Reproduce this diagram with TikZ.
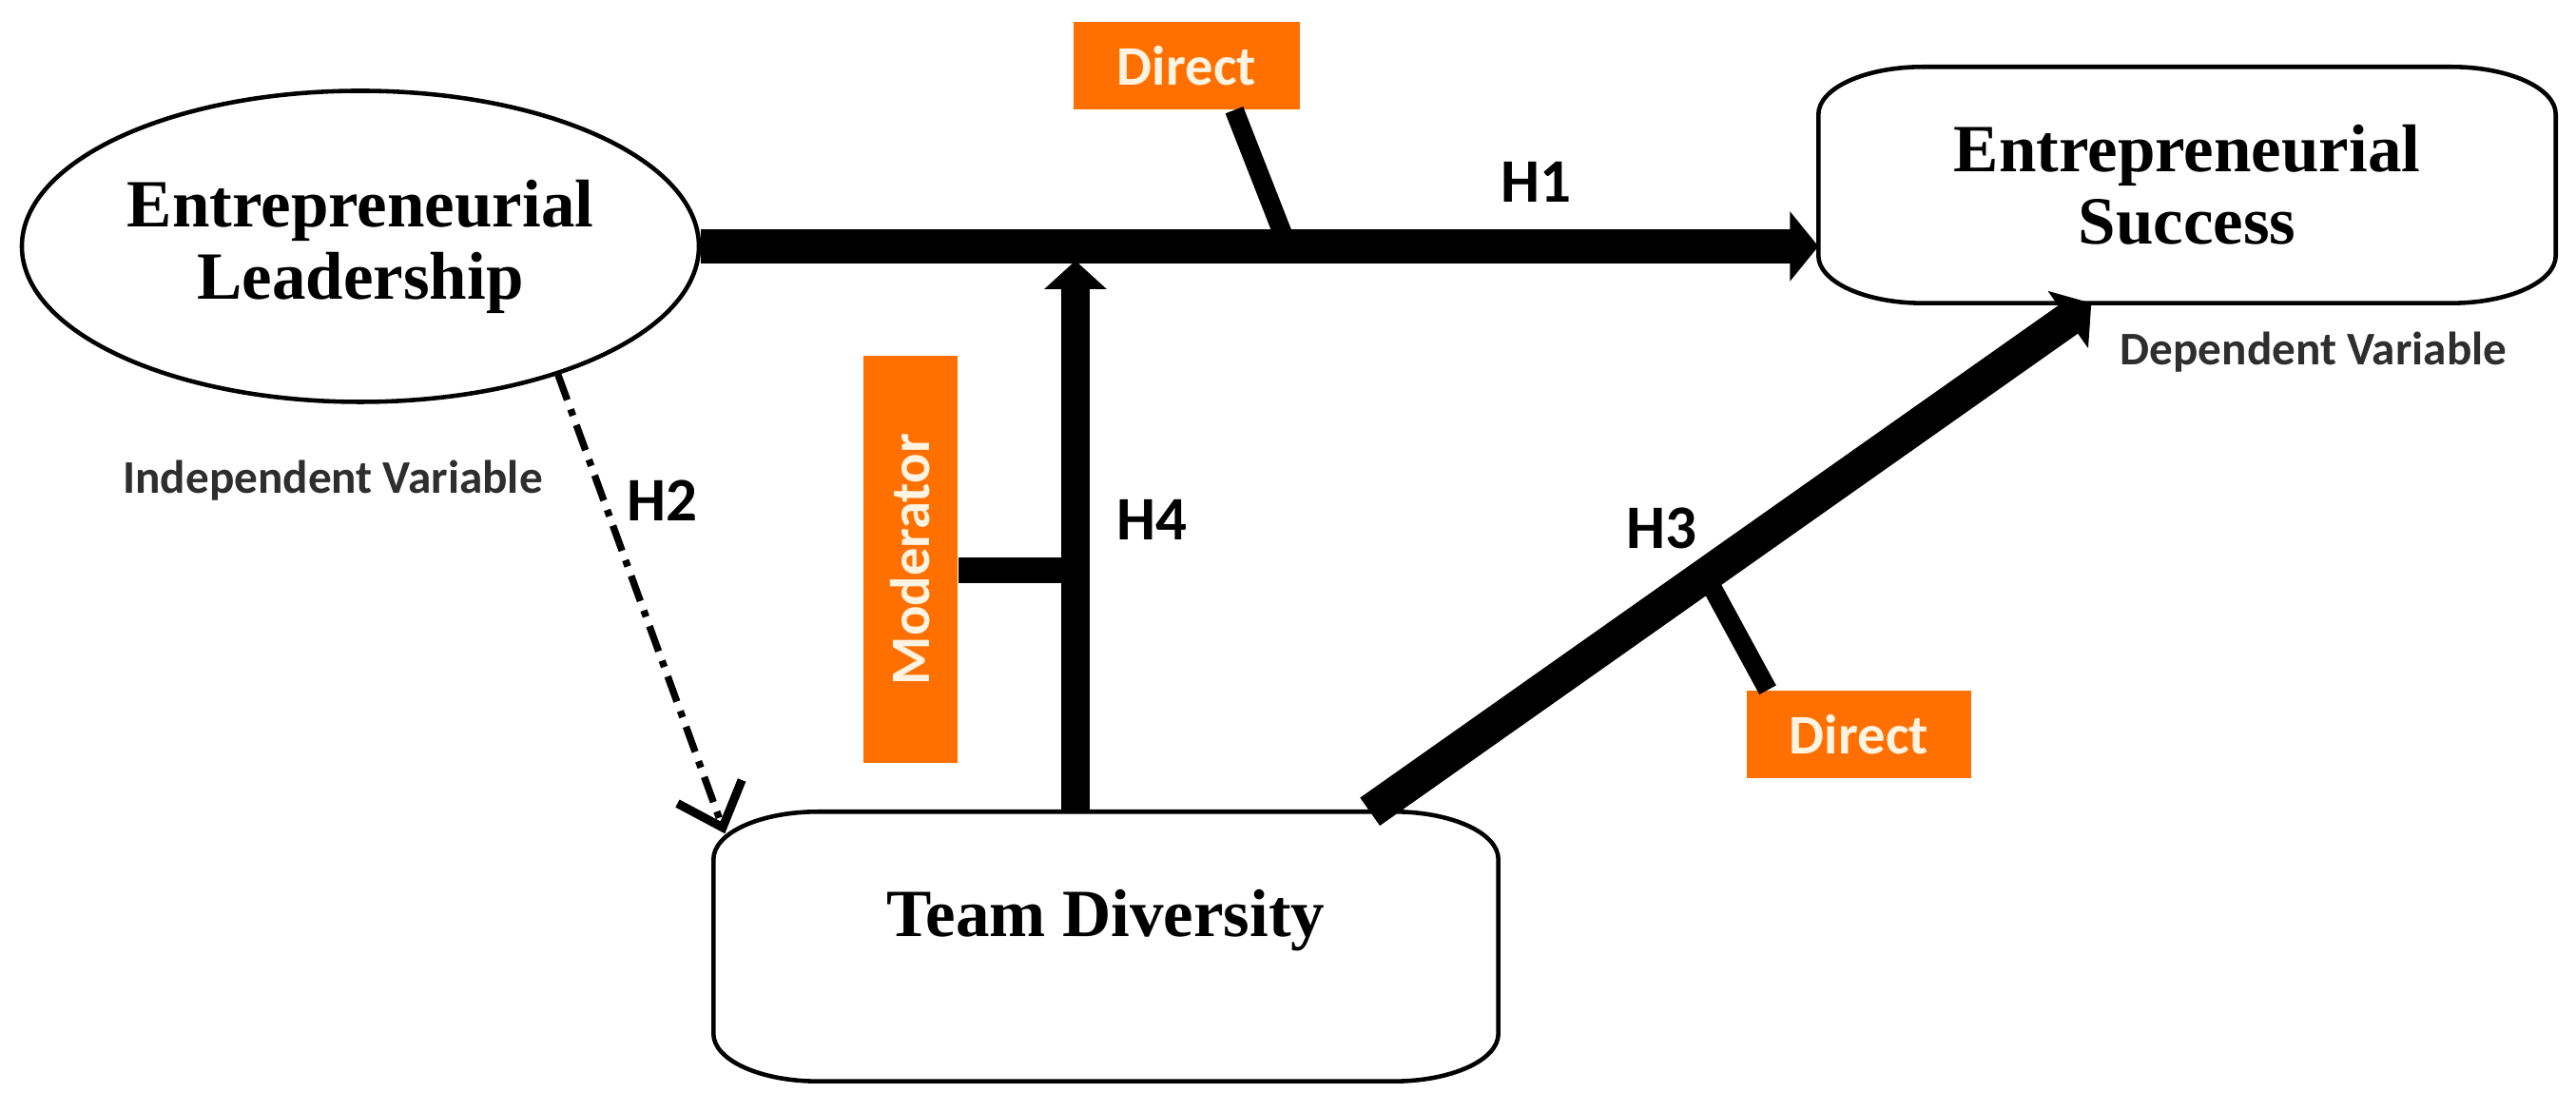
\documentclass[tikz,border=0pt]{standalone}
\usepackage{fontspec}
\setmainfont{Liberation Serif}
\newfontfamily\labelfont{Carlito}
\usepackage{xcolor}
\usetikzlibrary{arrows.meta, positioning, shapes.geometric, calc}

\definecolor{tagorange}{RGB}{255,112,0}
\definecolor{tagtext}{RGB}{255,243,225}

\begin{document}
\begin{tikzpicture}[
    construct/.style = {font=\fontsize{20.2}{21.6}\selectfont\bfseries,
                        align=center, inner sep=0pt},
    oval/.style      = {construct, ellipse, draw, line width=1.3pt,
                        minimum width=7.12cm, minimum height=3.27cm},
    softrect/.style  = {construct, rectangle},
    tag/.style       = {rectangle, fill=tagorange, text=tagtext, inner sep=0pt,
                        font=\labelfont\fontsize{16.7}{18}\selectfont\bfseries},
    hyp/.style       = {font=\labelfont\fontsize{18.5}{20}\selectfont\bfseries},
    role/.style      = {font=\labelfont\fontsize{14}{16}\selectfont\bfseries,
                        text=black!82},
    bigarrow/.style  = {-{Triangle[length=0.3cm, width=0.72cm]}, line width=0.36cm},
    modarrow/.style  = {-{Triangle[length=0.3cm, width=0.64cm]}, line width=0.3cm},
    stub/.style      = {line width=0.2cm},
    weak/.style      = {-{Straight Barb[length=0.4cm, width=0.72cm, line width=2.6pt]},
                        line width=2.1pt, dash pattern=on 8pt off 3pt on 2pt off 3pt},
    boxline/.style   = {line width=1.3pt}
  ]

  \path[use as bounding box] (0,0) rectangle (27.09,11.70);

  % ── Constructs ──────────────────────────────────────────────
  \node[oval]     (lead) at (3.79, 9.11)  {Entrepreneurial\\Leadership};
  \node[softrect, minimum width=7.74cm, minimum height=2.47cm]
                  (succ) at (23.00, 9.755) {Entrepreneurial\\Success};
  \node[softrect, minimum width=8.24cm, minimum height=2.82cm, text depth=0.7cm]
                  (team) at (11.63, 1.75) {Team Diversity};

  % soft corners (wider than high)
  \foreach \b in {succ, team} {
    \draw[boxline] ([xshift=1.1cm]\b.north west) -- ([xshift=-1.1cm]\b.north east)
      arc[start angle=90, end angle=0, x radius=1.1cm, y radius=0.5cm]
      -- ([yshift=0.5cm]\b.south east)
      arc[start angle=0, end angle=-90, x radius=1.1cm, y radius=0.5cm]
      -- ([xshift=1.1cm]\b.south west)
      arc[start angle=270, end angle=180, x radius=1.1cm, y radius=0.5cm]
      -- ([yshift=-0.5cm]\b.north west)
      arc[start angle=180, end angle=90, x radius=1.1cm, y radius=0.5cm] -- cycle;
  }

  % ── Orange tags ─────────────────────────────────────────────
  \node[tag, minimum width=2.38cm, minimum height=0.92cm] (dir1) at (12.48, 11.01) {Direct};
  \node[tag, minimum width=2.36cm, minimum height=0.92cm] (dir2) at (19.55, 3.98)  {Direct};
  \node[tag, minimum width=0.99cm, minimum height=4.28cm] (mod)  at (9.575, 5.82)
        {\rotatebox{90}{Moderator}};

  % ── Variable roles ──────────────────────────────────────────
  \node[role] (indep) at (3.50, 6.65) {Independent Variable};
  \node[role] (dep)   at (24.33, 8.00) {Dependent Variable};

  % ── Paths ───────────────────────────────────────────────────
  % H1: leadership -> success
  \draw[bigarrow] (lead.east) -- coordinate[pos=0.525] (h1mid) (lead.east -| succ.west);
  \draw[stub] ([xshift=0.5cm]dir1.south) -- (h1mid);

  % H3: diversity -> success
  \draw[bigarrow] ([xshift=-1.35cm]team.north east) -- coordinate[pos=0.465] (h3mid)
    ([xshift=2.87cm]succ.south west);
  \draw[stub] ([xshift=-0.96cm]dir2.north) -- (h3mid);

  % H4: moderation onto H1
  \coordinate (h4foot) at ([xshift=-0.32cm]team.north);
  \draw[modarrow, shorten >=0.15cm] (h4foot) -- (h4foot |- lead.east);
  \draw[line width=0.27cm] ([yshift=-0.12cm]mod.east) -- ([yshift=-0.12cm]mod.east -| h4foot);

  % H2: leadership -> diversity (dash-dot)
  \draw[weak] (lead.-33) -- ([shift={(0.12cm,-0.23cm)}]team.north west);

  % ── Hypothesis labels ───────────────────────────────────────
  \node[hyp] (h1) at (16.15, 9.79) {H1};
  \node[hyp] (h2) at (6.96, 6.44)  {H2};
  \node[hyp] (h3) at (17.47, 6.15) {H3};
  \node[hyp] (h4) at (12.11, 6.24) {H4};

\end{tikzpicture}
\end{document}
